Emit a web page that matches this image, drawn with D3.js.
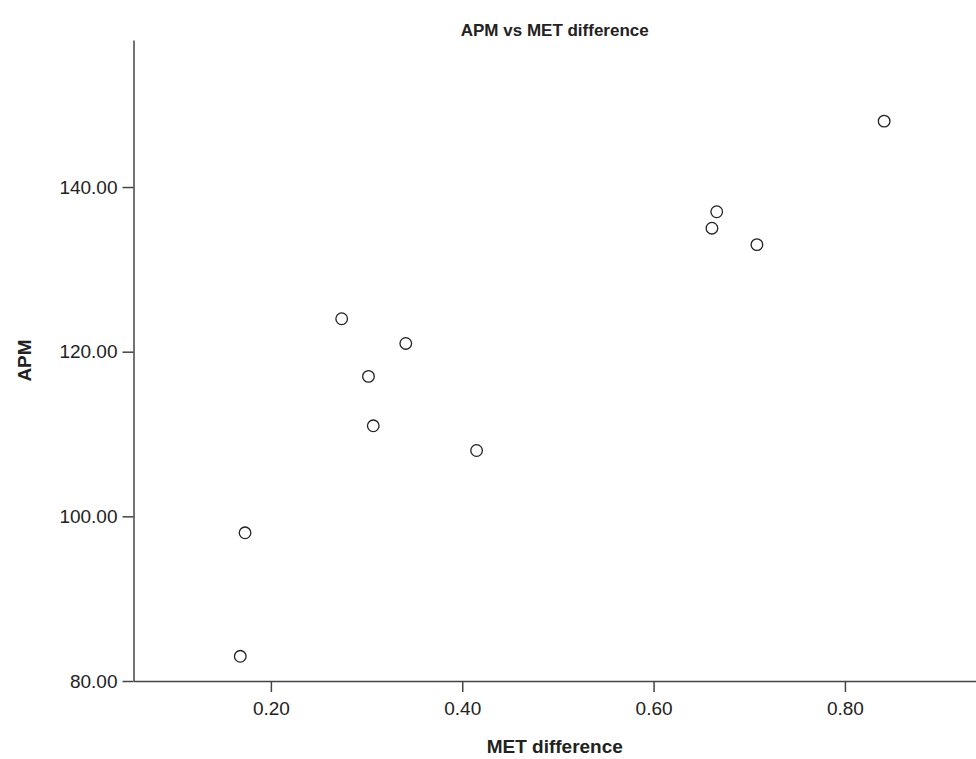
<!DOCTYPE html>
<html>
<head>
<meta charset="utf-8">
<script src="https://cdn.jsdelivr.net/npm/d3@7"></script>
<style>
  body { margin: 0; background: #fff; }
  svg { display: block; font-family: "Liberation Sans", Arial, Helvetica, sans-serif; }
  .axis path, .axis line { stroke: #444; stroke-width: 1.5; }
  .axis text { fill: #222; font-size: 19px; }
</style>
</head>
<body>
<svg width="976" height="759"></svg>
<script>

// data
var metDiff = [0.168, 0.173, 0.274, 0.341, 0.302, 0.307, 0.415, 0.841, 0.666, 0.661, 0.708];
var apm     = [83, 98, 124, 121, 117, 111, 108, 148, 137, 135, 133];
var xTicks  = [0.20, 0.40, 0.60, 0.80];
var yTicks  = [80, 100, 120, 140];

var titleText = "APM vs MET difference",
    xLabel = "MET difference",
    yLabel = "APM";

var svg = d3.select("svg"),
    margin = {top: 40, right: 0, bottom: 78, left: 133.5},
    width = 976 - margin.left - margin.right,
    height = 759 - margin.top - margin.bottom;

var points = metDiff.map(function(d, i) { return {x: d, y: apm[i]}; });

var x = d3.scaleLinear()
  .domain([0.0564, 0.937])
  .range([0, width]);

var y = d3.scaleLinear()
  .domain([80, 157.86])
  .range([height, 0]);

var g = svg.append("g")
  .attr("transform", "translate(" + margin.left + "," + margin.top + ")");

g.append("g")
  .attr("class", "axis axis--x")
  .attr("transform", "translate(0," + height + ")")
  .call(d3.axisBottom(x).tickValues(xTicks).tickFormat(d3.format(".2f")).tickSize(11).tickSizeOuter(0).tickPadding(6));

g.append("g")
  .attr("class", "axis axis--y")
  .call(d3.axisLeft(y).tickValues(yTicks).tickFormat(d3.format(".2f")).tickSize(11).tickSizeOuter(0).tickPadding(5));

g.selectAll(".axis--x text").attr("dy", "0.9em");

// scatter points
g.append("g").attr("class", "dots")
  .selectAll("circle")
  .data(points)
  .enter().append("circle")
  .attr("cx", function(d) { return x(d.x); })
  .attr("cy", function(d) { return y(d.y); })
  .attr("r", 5.8)
  .attr("fill", "#fff")
  .attr("stroke", "#222")
  .attr("stroke-width", 1.3);

//title and axis labels
svg.append("text")
  .attr("x", margin.left + width / 2)
  .attr("y", 36)
  .attr("text-anchor", "middle")
  .style("font-size", "17px")
  .style("font-weight", "bold")
  .style("fill", "#222")
  .text(titleText);

svg.append("text")
  .attr("x", margin.left + width / 2)
  .attr("y", 753)
  .attr("text-anchor", "middle")
  .style("font-size", "19px")
  .style("font-weight", "bold")
  .style("fill", "#222")
  .text(xLabel);

svg.append("text")
  .attr("transform", "translate(31," + (margin.top + height / 2) + ") rotate(-90)")
  .attr("text-anchor", "middle")
  .style("font-size", "19px")
  .style("font-weight", "bold")
  .style("fill", "#222")
  .text(yLabel);

</script>
</body>
</html>
